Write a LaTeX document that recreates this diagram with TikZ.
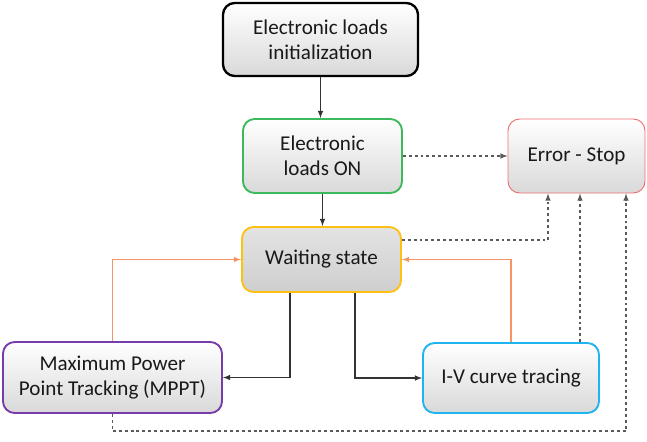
\documentclass[tikz,border=0pt]{standalone}
\usepackage{fontspec}
\setmainfont{Carlito}
\usetikzlibrary{positioning}
\usetikzlibrary{arrows}
\usetikzlibrary{shapes}
\definecolor{c_green}{RGB}{60,185,90}
\definecolor{c_red}{RGB}{240,110,110}
\definecolor{c_yellow}{RGB}{255,192,20}
\definecolor{c_purple}{RGB}{120,60,170}
\definecolor{c_cyan}{RGB}{30,180,240}
\definecolor{c_orange}{RGB}{244,150,100}
\definecolor{c_dash}{RGB}{90,90,90}
\tikzset{
        statebox/.style={rectangle, rounded corners=0.35cm, align=center, text=black!90,
                font=\fontsize{18}{21}\selectfont, top color=white, bottom color=gray!30, line width=1.6pt},
        % Start node
        state_init/.style={statebox, draw=black, line width=2pt, minimum width=5.85cm, minimum height=2.19cm},
        % Loads on
        state_on/.style={statebox, draw=c_green, minimum width=4.77cm, minimum height=2.22cm},
        % Error node
        state_error/.style={statebox, draw=c_red, line width=0.8pt, minimum width=4.11cm, minimum height=2.22cm},
        % Waiting node
        state_wait/.style={statebox, draw=c_yellow, top color=gray!22, bottom color=gray!38, minimum width=4.77cm, minimum height=1.95cm},
        % Working modes
        state_mppt/.style={statebox, draw=c_purple, minimum width=6.57cm, minimum height=2.13cm},
        state_iv/.style={statebox, draw=c_cyan, minimum width=5.28cm, minimum height=2.1cm},
        % Connectors
        flow/.style={->, >=latex, line width=1.1pt, black!80},
        back/.style={->, >=latex, line width=1.1pt, c_orange},
        fail/.style={->, >=latex, line width=1.1pt, c_dash, dashed, dash pattern=on 2.5pt off 2.5pt}
}
\begin{document}
\begin{tikzpicture}[x=0.03cm, y=-0.03cm]
    \useasboundingbox (0,0) rectangle (647,441);
    \node[state_init] (init) at (320.5,39.5) {Electronic loads\\initialization};
    \node[state_on] (on) at (322.5,156) {Electronic\\loads ON};
    \node[state_error] (err) at (576.5,156) {Error - Stop};
    \node[state_wait] (wait) at (321.5,259.5) {Waiting state};
    \node[state_mppt] (mppt) at (112.5,377.5) {Maximum Power\\Point Tracking (MPPT)};
    \node[state_iv] (iv) at (511,378) {I-V curve tracing};
    % main flow
    \draw[flow] (init) -- (init |- on.north);
    \draw[flow] (on) -- (on |- wait.north);
    \draw[flow] ([xshift=-0.945cm]wait.south) |- (mppt.east);
    \draw[flow] ([xshift=1.005cm]wait.south) |- (iv.west);
    % back to waiting
    \draw[back] (mppt.north) |- (wait.west);
    \draw[back] (iv.north) |- (wait.east);
    % errors
    \draw[fail] (on.east) -- (err.west);
    \draw[fail] ([yshift=0.585cm]wait.east) -| ([xshift=-0.855cm]err.south);
    \draw[fail] ([xshift=2.07cm]iv.north) coordinate (iv_up) -- (iv_up |- err.south);
    \coordinate (low) at (626,431);
    \draw[fail] (mppt.south) |- (low) -- (low |- err.south);
\end{tikzpicture}
\end{document}
